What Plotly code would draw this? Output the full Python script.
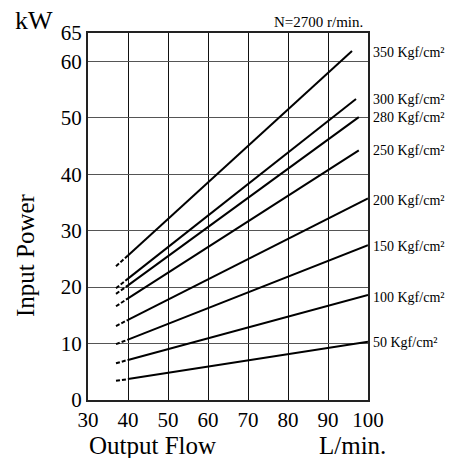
import plotly.graph_objects as go

# Data
pressures = ["350 Kgf/cm²", "300 Kgf/cm²", "280 Kgf/cm²", "250 Kgf/cm²",
             "200 Kgf/cm²", "150 Kgf/cm²", "100 Kgf/cm²", "50 Kgf/cm²"]
flow_start = [37, 37, 37, 37, 37, 37, 37, 37]
flow_split = [40, 40, 40, 40, 40, 40, 40, 40]
flow_end = [96, 97, 97.7, 97.7, 100, 100, 100, 100]
power_start = [23.7, 19.8, 18.8, 16.6, 13.1, 9.9, 6.5, 3.4]
power_split = [25.6, 21.5, 20.3, 18.0, 14.2, 10.7, 7.1, 3.7]
power_end = [61.8, 53.3, 50.1, 44.2, 35.7, 27.4, 18.6, 10.3]
label_y = [61.6, 53.2, 50.0, 44.2, 35.4, 27.1, 18.2, 10.2]

x_ticks = [30, 40, 50, 60, 70, 80, 90, 100]
y_ticks = [0, 10, 20, 30, 40, 50, 60, 65]

FONT = "Liberation Serif"
fig = go.Figure()
for i, name in enumerate(pressures):
    fig.add_trace(go.Scatter(x=[flow_start[i], flow_split[i]], y=[power_start[i], power_split[i]],
                             mode="lines", line=dict(color="black", width=2, dash="4px,2px"),
                             showlegend=False, hoverinfo="skip"))
    fig.add_trace(go.Scatter(x=[flow_split[i], flow_end[i]], y=[power_split[i], power_end[i]],
                             mode="lines", line=dict(color="black", width=2),
                             showlegend=False, name=name))
    fig.add_annotation(x=1.01, xref="paper", y=label_y[i], yref="y", text=name,
                       showarrow=False, xanchor="left", yanchor="middle",
                       font=dict(family=FONT, size=14, color="black"))

def note(x, y, text, size, xanchor="center", yanchor="middle", angle=0):
    fig.add_annotation(x=x, y=y, xref="paper", yref="paper", text=text, showarrow=False,
                       xanchor=xanchor, yanchor=yanchor, textangle=angle,
                       font=dict(family=FONT, size=size, color="black"))

note(-0.193, 1.035, "kW", 26)
note(0.989, 1.030, "N=2700 r/min.", 15, xanchor="right")
note(-0.225, 0.395, "Input Power", 25, angle=-90)
note(0.23, -0.123, "Output Flow", 25)
note(0.943, -0.123, "L/min.", 25)

fig.update_layout(
    width=465, height=458,
    margin=dict(l=88, r=97, t=33, b=58),
    paper_bgcolor="white", plot_bgcolor="white",
    showlegend=False,
    font=dict(family=FONT, color="black"),
    xaxis=dict(range=[30, 100], tickvals=x_ticks, showgrid=True, gridcolor="#111", gridwidth=1,
               showline=True, linecolor="#222", linewidth=2, mirror=True, zeroline=False,
               ticks="", tickfont=dict(family=FONT, size=21, color="black")),
    yaxis=dict(range=[0, 65], tickvals=y_ticks, showgrid=True, gridcolor="#555", gridwidth=1,
               showline=True, linecolor="#222", linewidth=2, mirror=True, zeroline=False,
               ticks="", tickfont=dict(family=FONT, size=21, color="black")),
)
fig.write_html("out.html")
